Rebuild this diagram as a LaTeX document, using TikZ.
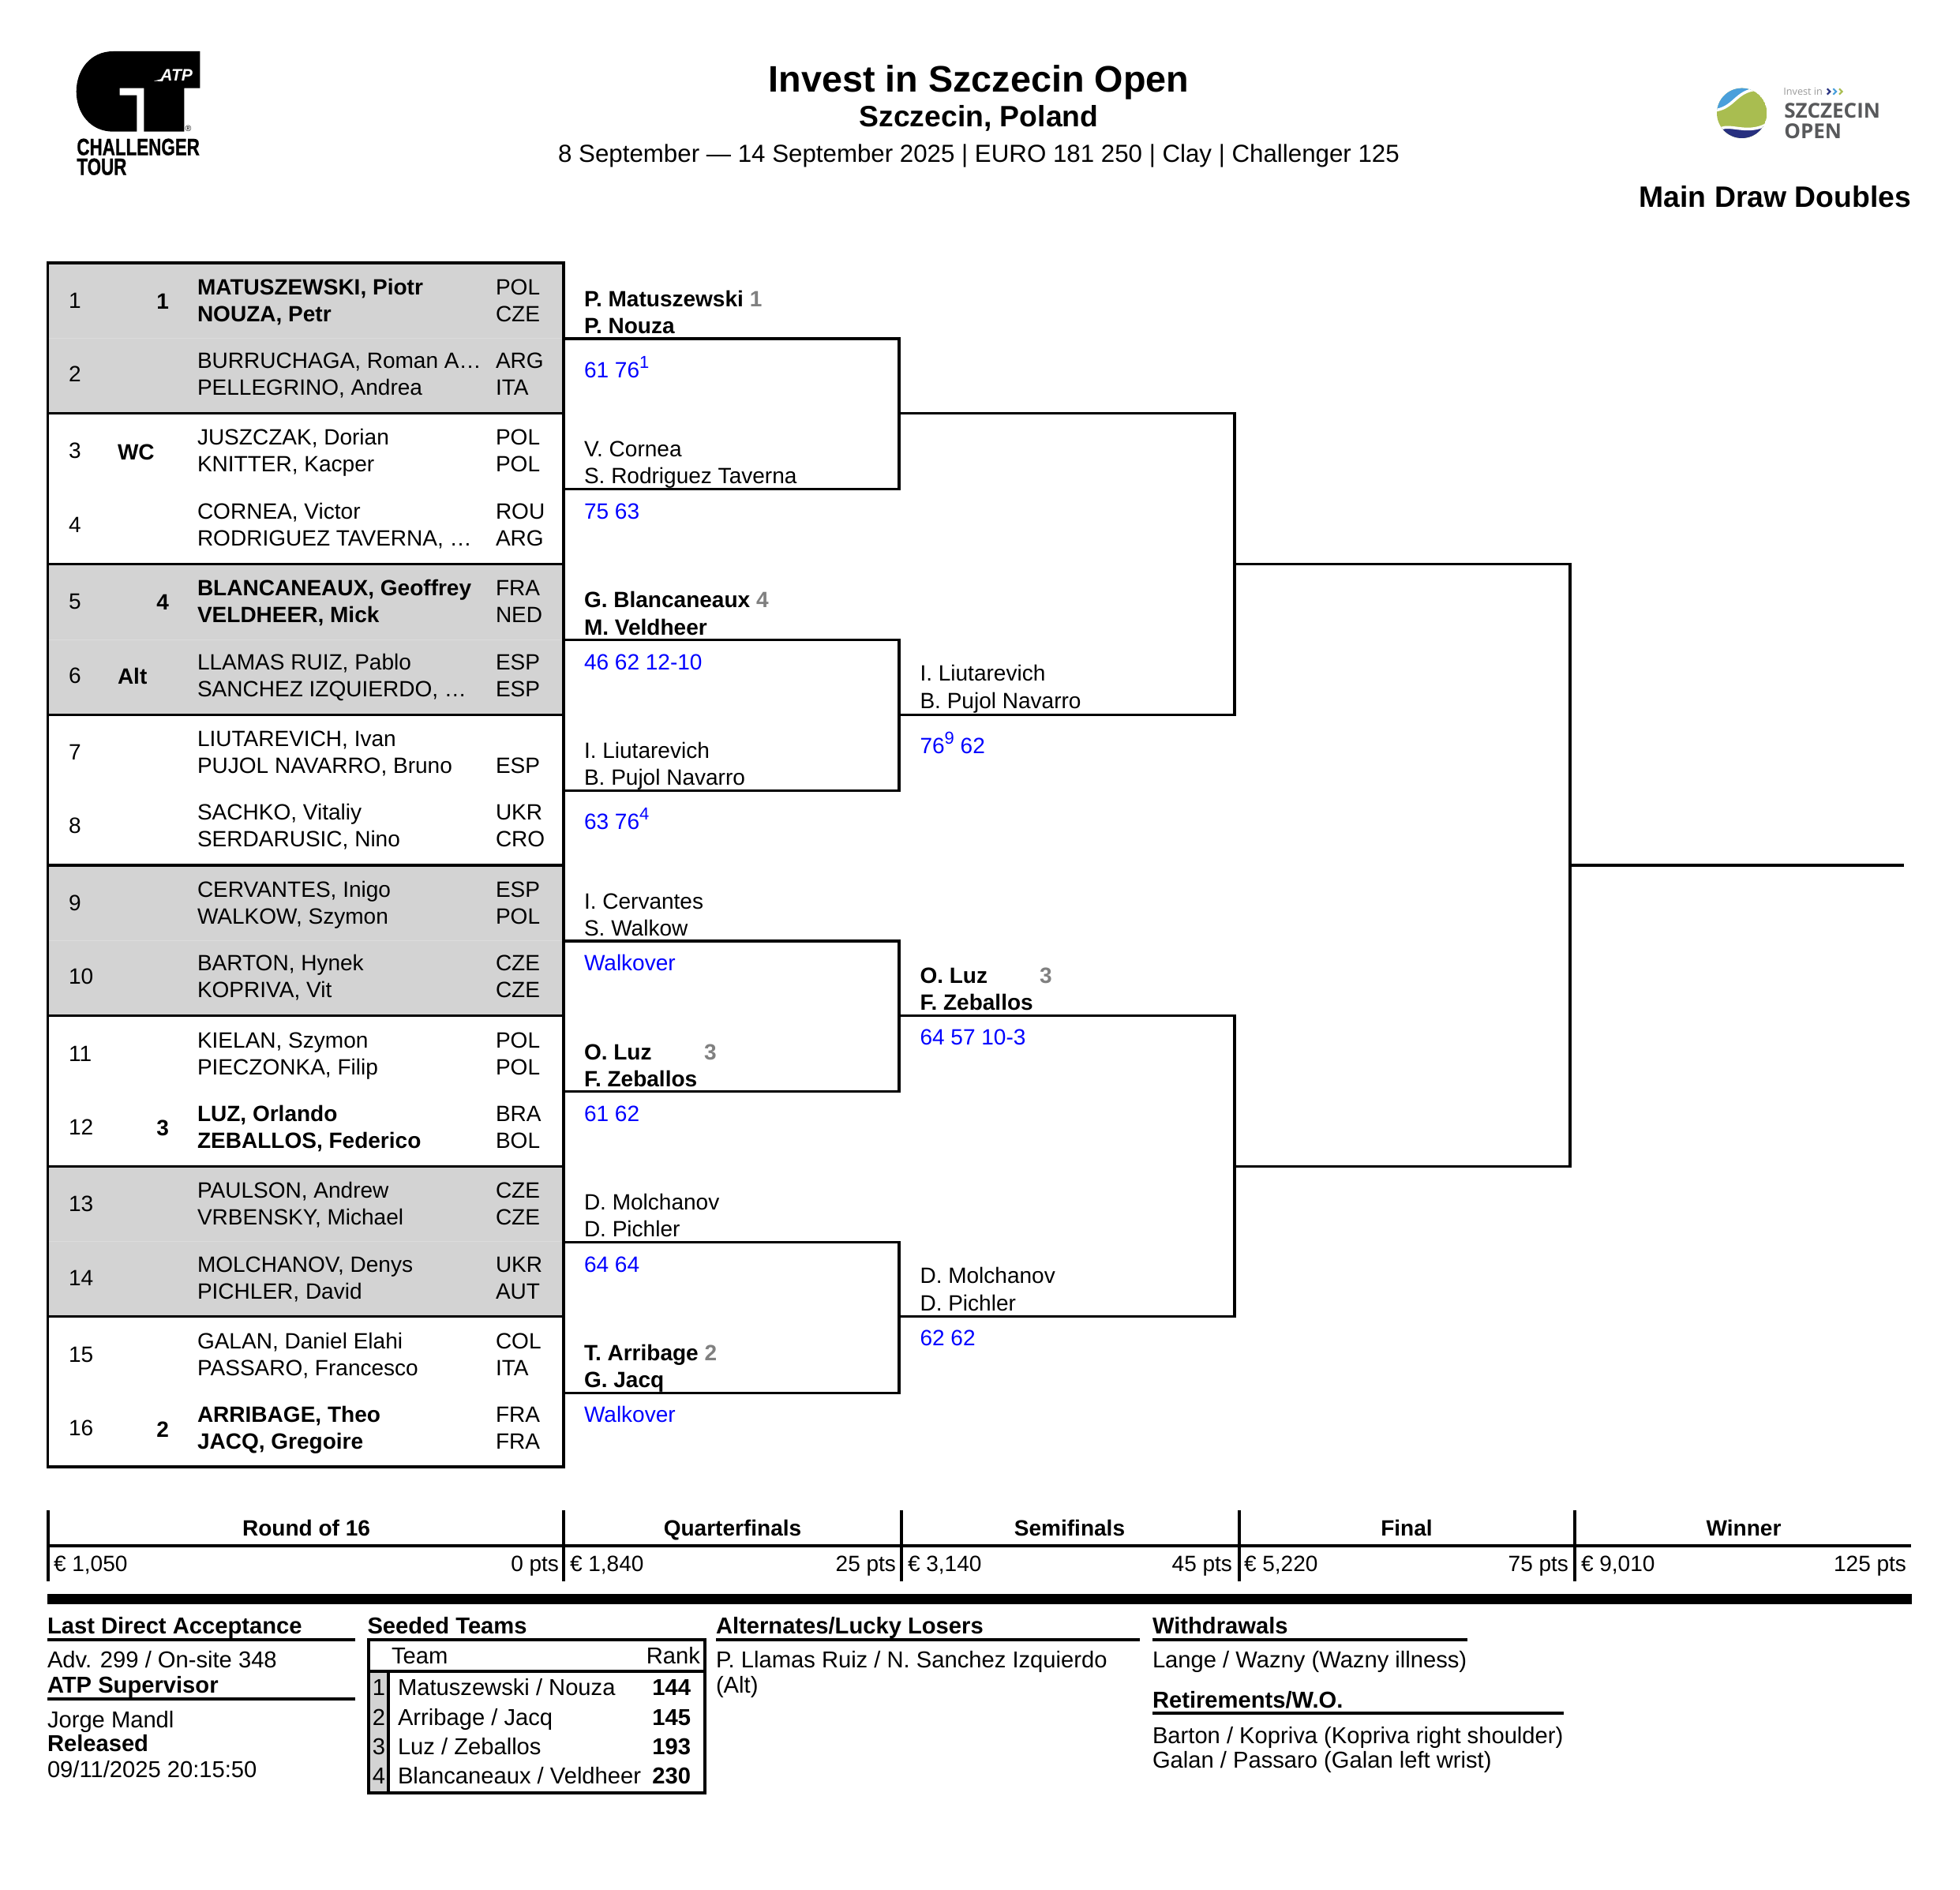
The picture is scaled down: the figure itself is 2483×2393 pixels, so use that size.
\documentclass[tikz,border=0pt]{standalone}
\usepackage{graphicx}
\usepackage{fontspec}
\setmainfont{Liberation Sans}
\newfontfamily\opensans{Open Sans}
\newfontface\heavyfont{Liberation Sans Bold}[FakeBold=1]
\definecolor{rowgray}{HTML}{D3D3D3}
\definecolor{seedgray}{HTML}{808080}
\definecolor{ballgreen}{HTML}{A9BD50}
\definecolor{ballblue}{HTML}{4A9FDB}
\definecolor{ballnavy}{HTML}{27307F}
\definecolor{logotext}{HTML}{58595B}
\newcommand\fs[1]{\fontsize{#1}{#1}\selectfont}
\newcommand\bodyfs{\fs{15.95}}
\newcommand\footfs{\fs{16.6}}
\newcommand\supnum[1]{\raisebox{.42em}{\fs{12.5}#1}}
\tikzset{
  txt/.style={anchor=base west,inner sep=0pt,outer sep=0pt,font=\bodyfs},
  txtr/.style={anchor=base east,inner sep=0pt,outer sep=0pt,font=\bodyfs},
  txtc/.style={anchor=base,inner sep=0pt,outer sep=0pt,font=\bodyfs},
  foot/.style={txt,font=\footfs},
  footb/.style={txt,font=\footfs\bfseries},
  footr/.style={txtr,font=\footfs},
  footrb/.style={txtr,font=\footfs\bfseries},
  footc/.style={txtc,font=\footfs},
  line/.style={line width=1.75pt,black},
  score/.style={txt,text=blue},
}
\newcommand\entry[7]{% n, y, font, name1, nat1, name2, nat2
  \pgfmathsetmacro\ya{#2+10}\pgfmathsetmacro\yb{#2+44.3}\pgfmathsetmacro\yn{#2+27}
  \node[txt] (num#1) at (87,\yn) {#1};
  \node[txt] (na#1) at (250,\ya) {#3{}#4};
  \node[txt] (nb#1) at (250,\yb) {#3{}#6};
  \node[txt] (ca#1) at (628,\ya) {#5};
  \node[txt] (cb#1) at (628,\yb) {#7};
}
\newcommand\seedR[3]{\pgfmathsetmacro\yn{#2+28.5}\node[txtr,font=\bodyfs\bfseries] (seed#1) at (214,\yn) {#3};}
\newcommand\seedL[3]{\pgfmathsetmacro\yn{#2+28.5}\node[txt,font=\bodyfs\bfseries] (seed#1) at (149,\yn) {#3};}
\newcommand\gs[1]{{\color{seedgray}#1}}
\begin{document}
\begin{tikzpicture}[x=0.02cm,y=-0.02cm]
\useasboundingbox (0,0) rectangle (2483,2393);
% ---- ATP logo
\fill[black] (253.3,65) -- (143.3,65) .. controls (115,65) and (96.7,88) .. (96.7,116) .. controls (96.7,144) and (115,166.7) .. (143.3,166.7) -- (173.3,166.7) -- (173.3,120.7) -- (151.7,120.7) -- (151.7,111.7) -- (182.3,111.7) -- (182.3,166.7) -- (233.3,166.7) -- (233.3,111.7) -- (253.3,111.7) -- cycle;
\fill[white] (195,102.5) -- (207,99.5) -- (206,103) -- cycle;
\node[anchor=base west,inner sep=0pt,text=white,font=\fs{12}\bfseries\itshape] (atp) at (203,103) {ATP};
\node[anchor=center,inner sep=0pt,font=\fs{6}] (regmark) at (238.5,163) {®};
\node[anchor=base west,inner sep=0pt,font=\fs{17}\heavyfont] (ch) at (97,196.5) {\scalebox{.75}[1]{CHALLENGER}};
\node[anchor=base west,inner sep=0pt,font=\fs{17}\heavyfont] (tour) at (97,221.5) {\scalebox{.75}[1]{TOUR}};
% ---- Szczecin logo
\begin{scope}[shift={(2130,80)},x=0.00667cm,y=-0.00667cm]
  \begin{scope}
    \clip (230,190) circle (95);
    \fill[ballgreen] (230,190) circle (95);
    \fill[ballblue] (120,180) .. controls (200,175) and (205,105) .. (285,100) -- (285,80) -- (120,80) -- cycle;
    \draw[white,line width=2pt] (120,180) .. controls (200,175) and (205,105) .. (285,100);
    \fill[ballnavy] (150,248) .. controls (190,232) and (250,270) .. (320,235) -- (320,300) -- (150,300) -- cycle;
    \draw[white,line width=2pt] (150,248) .. controls (190,232) and (250,270) .. (320,235);
  \end{scope}
  \draw[ballnavy,line width=1.2pt] (554,97) -- (565,108) -- (554,119);
  \draw[ballblue,line width=1.2pt] (577,97) -- (588,108) -- (577,119);
  \draw[ballgreen,line width=1.2pt] (600,97) -- (611,108) -- (600,119);
\end{scope}
\node[anchor=base west,inner sep=0pt,text=gray!80,font=\fs{7.2}\opensans] (inv) at (2259,120.5) {Invest in};
\node[anchor=base west,inner sep=0pt,text=logotext,font=\fs{14.8}\opensans\bfseries] (szc) at (2260,149.5) {SZCZECIN};
\node[anchor=base west,inner sep=0pt,text=logotext,font=\fs{14.8}\opensans\bfseries] (opn) at (2260,175) {OPEN};
% ---- header
\node[txtc,font=\fs{26.6}\bfseries] (title) at (1240,116) {Invest in Szczecin Open};
\node[txtc,font=\fs{21.25}\bfseries] (sub) at (1240,160) {Szczecin, Poland};
\node[txtc,font=\fs{17.8}] (dates) at (1240,205) {8 September — 14 September 2025 | EURO 181 250 | Clay | Challenger 125};
\node[txtr,font=\fs{21.25}\bfseries] (draw) at (2421,262) {Main Draw Doubles};
% ---- table
\fill[rowgray] (60.5,333) rectangle (714,523.75);
\fill[rowgray] (60.5,714.5) rectangle (714,905.25);
\fill[rowgray] (60.5,1096) rectangle (714,1286.75);
\fill[rowgray] (60.5,1477.5) rectangle (714,1667.5);
\foreach \yy in {428.5,810,1191.5,1572.5}
  \draw[line width=0.3pt,draw=rowgray!80] (61,\yy) -- (713,\yy);
\coordinate (tl) at (60.5,333); \coordinate (tr) at (714,333);
\coordinate (bl) at (60.5,1858); \coordinate (br) at (714,1858);
\draw[line] (tl) -- (tr) -- (br) -- (bl) -- cycle;
\foreach \yy in {523.75,714.5,905.25,1096,1286.75,1477.5,1667.5}
  \draw[line] (60.5,\yy) -- (714,\yy);
\entry{1}{363}{\bfseries}{MATUSZEWSKI, Piotr}{POL}{NOUZA, Petr}{CZE}
\entry{2}{456}{}{BURRUCHAGA, Roman A…}{ARG}{PELLEGRINO, Andrea}{ITA}
\entry{3}{553.5}{}{JUSZCZAK, Dorian}{POL}{KNITTER, Kacper}{POL}
\entry{4}{647}{}{CORNEA, Victor}{ROU}{RODRIGUEZ TAVERNA, …}{ARG}
\entry{5}{744}{\bfseries}{BLANCANEAUX, Geoffrey}{FRA}{VELDHEER, Mick}{NED}
\entry{6}{838}{}{LLAMAS RUIZ, Pablo}{ESP}{SANCHEZ IZQUIERDO, …}{ESP}
\entry{7}{935}{}{LIUTAREVICH, Ivan}{}{PUJOL NAVARRO, Bruno}{ESP}
\entry{8}{1028}{}{SACHKO, Vitaliy}{UKR}{SERDARUSIC, Nino}{CRO}
\entry{9}{1126}{}{CERVANTES, Inigo}{ESP}{WALKOW, Szymon}{POL}
\entry{10}{1219.5}{}{BARTON, Hynek}{CZE}{KOPRIVA, Vit}{CZE}
\entry{11}{1317}{}{KIELAN, Szymon}{POL}{PIECZONKA, Filip}{POL}
\entry{12}{1410}{\bfseries}{LUZ, Orlando}{BRA}{ZEBALLOS, Federico}{BOL}
\entry{13}{1507.5}{}{PAULSON, Andrew}{CZE}{VRBENSKY, Michael}{CZE}
\entry{14}{1601}{}{MOLCHANOV, Denys}{UKR}{PICHLER, David}{AUT}
\entry{15}{1698}{}{GALAN, Daniel Elahi}{COL}{PASSARO, Francesco}{ITA}
\entry{16}{1791.5}{\bfseries}{ARRIBAGE, Theo}{FRA}{JACQ, Gregoire}{FRA}
\seedR{1}{363}{1}
\seedL{3}{553.5}{WC}
\seedR{5}{744}{4}
\seedL{6}{838}{Alt}
\seedR{12}{1410}{3}
\seedR{16}{1791.5}{2}
% ---- bracket coordinates
\coordinate (q1a) at (714,429);   \coordinate (q1b) at (1139,429);
\coordinate (q2a) at (714,619.75);\coordinate (q2b) at (1139,619.75);
\coordinate (q3a) at (714,810.5); \coordinate (q3b) at (1139,810.5);
\coordinate (q4a) at (714,1001.25);\coordinate (q4b) at (1139,1001.25);
\coordinate (q5a) at (714,1192);  \coordinate (q5b) at (1139,1192);
\coordinate (q6a) at (714,1382.75);\coordinate (q6b) at (1139,1382.75);
\coordinate (q7a) at (714,1573.5);\coordinate (q7b) at (1139,1573.5);
\coordinate (q8a) at (714,1764.25);\coordinate (q8b) at (1139,1764.25);
\coordinate (s1a) at (1139,523.75); \coordinate (s1b) at (1564,523.75);
\coordinate (s2a) at (1139,905.25); \coordinate (s2b) at (1564,905.25);
\coordinate (s3a) at (1139,1286.75);\coordinate (s3b) at (1564,1286.75);
\coordinate (s4a) at (1139,1667.5); \coordinate (s4b) at (1564,1667.5);
\coordinate (f1a) at (1564,714.5);  \coordinate (f1b) at (1989,714.5);
\coordinate (f2a) at (1564,1477.5); \coordinate (f2b) at (1989,1477.5);
\coordinate (w1a) at (1989,1096);   \coordinate (w1b) at (2412,1096);
\draw[line] (q1a) -- (q1b) -- (q2b) -- (q2a);
\draw[line] (q3a) -- (q3b) -- (q4b) -- (q4a);
\draw[line] (q5a) -- (q5b) -- (q6b) -- (q6a);
\draw[line] (q7a) -- (q7b) -- (q8b) -- (q8a);
\draw[line] (s1a) -- (s1b) -- (s2b) -- (s2a);
\draw[line] (s3a) -- (s3b) -- (s4b) -- (s4a);
\draw[line] (f1a) -- (f1b) -- (f2b) -- (f2a);
\draw[line] (w1a) -- (w1b);
% ---- quarterfinal labels
\node[txt,font=\bodyfs\bfseries] (a1) at (740,388) {P. Matuszewski \gs{1}};
\node[txt,font=\bodyfs\bfseries] (a1b) at (740,422) {P. Nouza};
\node[score] (a1s) at (740,478) {61 76\supnum{1}};
\node[txt] (a2) at (740,578) {V. Cornea};
\node[txt] (a2b) at (740,612.5) {S. Rodriguez Taverna};
\node[score] (a2s) at (740,657) {75 63};
\node[txt,font=\bodyfs\bfseries] (a3) at (740,769.5) {G. Blancaneaux \gs{4}};
\node[txt,font=\bodyfs\bfseries] (a3b) at (740,804) {M. Veldheer};
\node[score] (a3s) at (740,848) {46 62 12-10};
\node[txt] (a4) at (740,960) {I. Liutarevich};
\node[txt] (a4b) at (740,994.5) {B. Pujol Navarro};
\node[score] (a4s) at (740,1050) {63 76\supnum{4}};
\node[txt] (a5) at (740,1151) {I. Cervantes};
\node[txt] (a5b) at (740,1185.5) {S. Walkow};
\node[score] (a5s) at (740,1229.5) {Walkover};
\node[txt,font=\bodyfs\bfseries] (a6) at (740,1342) {O. Luz};
\node[txt,font=\bodyfs\bfseries,text=seedgray] (a6g) at (892,1342) {3};
\node[txt,font=\bodyfs\bfseries] (a6b) at (740,1376.5) {F. Zeballos};
\node[score] (a6s) at (740,1420.5) {61 62};
\node[txt] (a7) at (740,1532) {D. Molchanov};
\node[txt] (a7b) at (740,1566) {D. Pichler};
\node[score] (a7s) at (740,1611) {64 64};
\node[txt,font=\bodyfs\bfseries] (a8) at (740,1723) {T. Arribage \gs{2}};
\node[txt,font=\bodyfs\bfseries] (a8b) at (740,1757.5) {G. Jacq};
\node[score] (a8s) at (740,1801.5) {Walkover};
% ---- semifinal labels
\node[txt] (b1) at (1165.5,862.5) {I. Liutarevich};
\node[txt] (b1b) at (1165.5,897) {B. Pujol Navarro};
\node[score] (b1s) at (1165.5,954) {76\supnum{9} 62};
\node[txt,font=\bodyfs\bfseries] (b2) at (1165.5,1245.5) {O. Luz};
\node[txt,font=\bodyfs\bfseries,text=seedgray] (b2g) at (1317,1245.5) {3};
\node[txt,font=\bodyfs\bfseries] (b2b) at (1165.5,1279.5) {F. Zeballos};
\node[score] (b2s) at (1165.5,1323.5) {64 57 10-3};
\node[txt] (b3) at (1165.5,1625.5) {D. Molchanov};
\node[txt] (b3b) at (1165.5,1660) {D. Pichler};
\node[score] (b3s) at (1165.5,1704.5) {62 62};
% ---- prize table
\coordinate (pa) at (61,1958); \coordinate (pb) at (2421,1958);
\draw[line] (pa) -- (pb);
\foreach \xx in {61,714,1142,1570,1995}
  \draw[line] (\xx,1913) -- (\xx,2003);
\node[txtc,font=\bodyfs\bfseries] (h1) at (388,1945) {Round of 16};
\node[txtc,font=\bodyfs\bfseries] (h2) at (928,1945) {Quarterfinals};
\node[txtc,font=\bodyfs\bfseries] (h3) at (1355,1945) {Semifinals};
\node[txtc,font=\bodyfs\bfseries] (h4) at (1782,1945) {Final};
\node[txtc,font=\bodyfs\bfseries] (h5) at (2209,1945) {Winner};
\node[txt] (p1) at (68,1990) {€ 1,050};
\node[txtr] (t1) at (708,1990) {0 pts};
\node[txt] (p2) at (722,1990) {€ 1,840};
\node[txtr] (t2) at (1135,1990) {25 pts};
\node[txt] (p3) at (1150,1990) {€ 3,140};
\node[txtr] (t3) at (1561,1990) {45 pts};
\node[txt] (p4) at (1576,1990) {€ 5,220};
\node[txtr] (t4) at (1987,1990) {75 pts};
\node[txt] (p5) at (2003,1990) {€ 9,010};
\node[txtr] (t5) at (2415,1990) {125 pts};
\fill[black] (60,2019) rectangle (2422,2032);
% ---- bottom: left column
\node[footb] (lda) at (60,2069) {Last Direct Acceptance};
\draw[line] (60,2077) -- (450,2077);
\node[foot] (adv) at (60,2112) {Adv. 299 / On-site 348};
\node[footb] (supv) at (60,2144) {ATP Supervisor};
\draw[line] (60,2152) -- (450,2152);
\node[foot] (jm) at (60,2188) {Jorge Mandl};
\node[footb] (rel) at (60,2218) {Released};
\node[foot] (dat) at (60,2251) {09/11/2025 20:15:50};
% ---- seeded teams
\node[footb] (st) at (465.5,2069) {Seeded Teams};
\fill[rowgray] (467,2117) rectangle (492,2271);
\draw[line] (467,2077) rectangle (893,2271);
\draw[line] (467,2117) -- (893,2117);
\draw[line] (492,2117) -- (492,2271);
\node[foot] (tm) at (496,2107.5) {Team};
\node[footr] (rk) at (887,2107.5) {Rank};
\node[footc] (k1) at (480,2147) {1};
\node[foot] (s1) at (504,2147) {Matuszewski / Nouza};
\node[footrb] (r1) at (875,2147) {144};
\node[footc] (k2) at (480,2185) {2};
\node[foot] (s2) at (504,2185) {Arribage / Jacq};
\node[footrb] (r2) at (875,2185) {145};
\node[footc] (k3) at (480,2222) {3};
\node[foot] (s3) at (504,2222) {Luz / Zeballos};
\node[footrb] (r3) at (875,2222) {193};
\node[footc] (k4) at (480,2259) {4};
\node[foot] (s4) at (504,2259) {Blancaneaux / Veldheer};
\node[footrb] (r4) at (875,2259) {230};
% ---- alternates
\node[footb] (alt) at (907,2069) {Alternates/Lucky Losers};
\draw[line] (907,2077) -- (1444,2077);
\node[foot] (alt1) at (907,2112) {P. Llamas Ruiz / N. Sanchez Izquierdo};
\node[foot] (alt2) at (907,2144) {(Alt)};
% ---- withdrawals
\node[footb] (wd) at (1460,2069) {Withdrawals};
\draw[line] (1460,2077) -- (1859,2077);
\node[foot] (wd1) at (1460,2112) {Lange / Wazny (Wazny illness)};
\node[footb] (ret) at (1460,2163) {Retirements/W.O.};
\draw[line] (1460,2170) -- (1981,2170);
\node[foot] (ret1) at (1460,2208) {Barton / Kopriva (Kopriva right shoulder)};
\node[foot] (ret2) at (1460,2239) {Galan / Passaro (Galan left wrist)};
\end{tikzpicture}
\end{document}
